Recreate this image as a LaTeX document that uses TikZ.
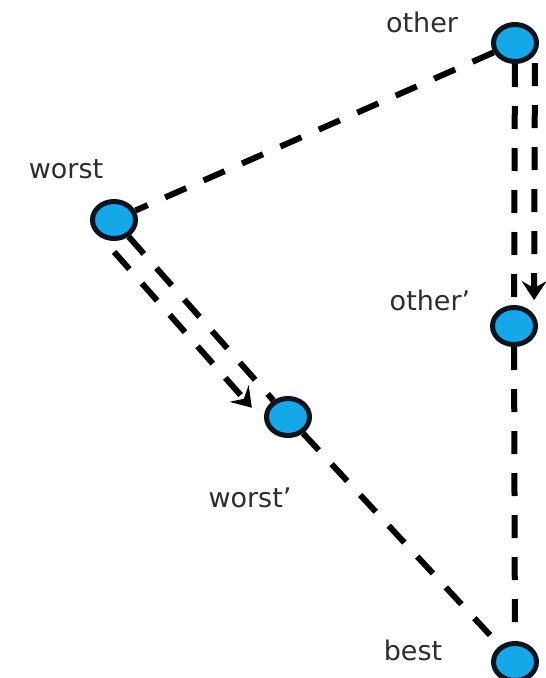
\documentclass[tikz,border=0pt]{standalone}
\usepackage{fontspec}
\setmainfont{DejaVu Sans}
\usetikzlibrary{arrows.meta,calc,shapes.geometric}
\definecolor{nodefill}{RGB}{20,168,232}
\definecolor{nodeline}{RGB}{10,20,30}
\definecolor{txt}{RGB}{45,45,45}
\begin{document}
\begin{tikzpicture}[x=1pt,y=-1pt,
  vertex/.style={ellipse, draw=nodeline, fill=nodefill, line width=5pt,
                 minimum width=43pt, minimum height=37pt, inner sep=0pt},
  conn/.style={line width=6pt, dash pattern=on 23pt off 19pt},
  move/.style={conn, -{Stealth[length=19pt,width=25pt,inset=7pt]}},
  lbl/.style={anchor=base, text=txt, inner sep=0pt,
              font=\fontsize{27}{32}\selectfont}]
\useasboundingbox (0,0) rectangle (546,678);
\fill[white] (0,0) rectangle (546,678);

\node[vertex] (other)  at (515,43)  {};
\node[vertex] (worst)  at (114,220) {};
\node[vertex] (otherp) at (514,326) {};
\node[vertex] (worstp) at (288,417) {};
\node[vertex] (best)   at (515,662) {};

\node[lbl] (lother)  at (422,32)  {other};
\node[lbl] (lworst)  at (66,178)  {worst};
\node[lbl] (lotherp) at (430,310) {other’};
\node[lbl] (lworstp) at (250,507) {worst’};
\node[lbl] (lbest)   at (413,660) {best};

\draw[conn] (other) -- (worst);
\draw[conn] (other) -- (otherp);
\draw[conn] (otherp) -- (best);
\draw[conn] (worst) -- (worstp);
\draw[conn] (worstp) -- (best);

\coordinate (a1s) at ($(worst)!24pt!(worstp)!21pt!-90:(worstp)$);
\coordinate (a1e) at ($(worst)!232pt!(worstp)!21pt!-90:(worstp)$);
\coordinate (a2s) at ($(other)!20pt!(otherp)!20pt!90:(otherp)$);
\coordinate (a2e) at ($(other)!257pt!(otherp)!20pt!90:(otherp)$);
\draw[move] (a1s) -- (a1e);
\draw[move] (a2s) -- (a2e);
\end{tikzpicture}
\end{document}
